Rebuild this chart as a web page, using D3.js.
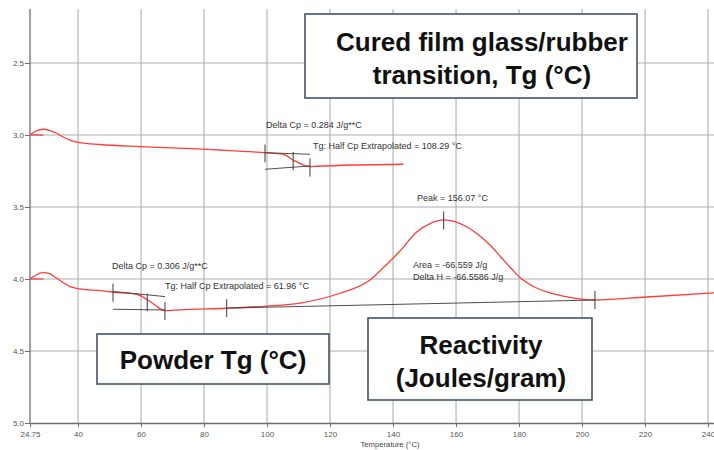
<!DOCTYPE html>
<html>
<head>
<meta charset="utf-8">
<script src="https://cdn.jsdelivr.net/npm/d3@7"></script>
<style>
  html, body { margin: 0; padding: 0; background: #fff; }
  svg { display: block; font-family: "Liberation Sans", Arial, sans-serif; }
</style>
</head>
<body>
<svg id="chart" width="714" height="450"></svg>
<script>
// Axis ticks
const xTicks = [24.75, 40, 60, 80, 100, 120, 140, 160, 180, 200, 220, 240];
const yTicks = [2.5, 3.0, 3.5, 4.0, 4.5, 5.0];

// Heat flow trace of the cured film (temperature °C, signal)
const filmTemp = [24.75, 26.65, 28.97, 31.1, 33.23, 35.23, 37.45, 40.62, 46.97, 59.67, 85.07, 99.35, 105.16, 108.34, 111.51, 113.64, 115.77, 143.26];
const filmSignal = [3.000, 2.972, 2.960, 2.969, 2.988, 3.014, 3.035, 3.053, 3.066, 3.081, 3.104, 3.123, 3.134, 3.174, 3.208, 3.220, 3.217, 3.203];

// Heat flow trace of the powder (glass transition plus cure exotherm)
const powderTemp = [24.75, 26.65, 28.97, 31.1, 33.23, 35.23, 37.45, 40.62, 46.97, 51.1, 58.62, 62.11, 64.43, 66.56, 68.24, 72.37, 87.19, 99.89, 110.46, 123.16, 132.7, 137.45, 142.21, 147.51, 151.73, 156.07, 159.66, 163.38, 167.6, 170.78, 173.95, 177.67, 180.3, 184.43, 188.87, 196.17, 204.1, 220.6, 241.9];
const powderSignal = [4.000, 3.972, 3.956, 3.965, 3.995, 4.024, 4.053, 4.069, 4.081, 4.092, 4.106, 4.146, 4.181, 4.212, 4.220, 4.214, 4.203, 4.188, 4.167, 4.099, 4.007, 3.910, 3.806, 3.674, 3.615, 3.590, 3.601, 3.637, 3.701, 3.764, 3.840, 3.931, 3.990, 4.050, 4.090, 4.128, 4.146, 4.125, 4.097];

// Short start-of-run markers on each trace
const startMarks = [[[24.75, 3.0], [29.0, 3.0]], [[24.75, 4.0], [29.0, 4.0]]];

// Glass transition construction lines (onset/end tangents)
const filmTangents = [[[99.35, 3.123], [113.64, 3.134]], [[99.35, 3.238], [113.64, 3.215]]];
const powderTangents = [[[51.1, 4.087], [67.6, 4.122]], [[51.1, 4.210], [67.6, 4.215]]];
// Integration baseline under the cure exotherm
const cureBaseline = [[87.2, 4.202], [204.1, 4.146]];

// Vertical limit markers: [temperature, signal]
const filmMarks = [[99.35, 3.128], [108.29, 3.181], [113.64, 3.226]];
const powderMarks = [[51.1, 4.095], [61.96, 4.163], [67.6, 4.222]];
const cureMarks = [[87.2, 4.202], [156.07, 3.594], [204.1, 4.146]];

// Result labels
const resultLabels = [
  "Delta Cp = 0.284 J/g**C",
  "Tg: Half Cp Extrapolated = 108.29 °C",
  "Peak = 156.07 °C",
  "Delta Cp = 0.306 J/g**C",
  "Tg: Half Cp Extrapolated = 61.96 °C",
  "Area = -66.559 J/g",
  "Delta H = -66.5586 J/g"
];
const calloutTitles = [
  ["Cured film glass/rubber", "transition, Tg (°C)"],
  ["Powder Tg (°C)"],
  ["Reactivity", "(Joules/gram)"]
];

const svg = d3.select("#chart");
const plotLeft = 30, plotRight = 714, plotTop = 9, plotBottom = 423;

const x = d3.scaleLinear().domain([24.75, 24.75 + (plotRight - plotLeft) / 3.15]).range([plotLeft, plotRight]);
const y = d3.scaleLinear().domain([2.125, 5.0]).range([plotTop, plotBottom]);

// Grid
const grid = svg.append("g");
grid.selectAll("line.h").data(yTicks.filter(d => d < 5)).join("line")
  .attr("x1", plotLeft).attr("x2", plotRight)
  .attr("y1", d => y(d)).attr("y2", d => y(d))
  .attr("stroke", "#c8c8c8").attr("stroke-width", 1.3);
grid.selectAll("line.v").data(xTicks.slice(1)).join("line")
  .attr("x1", d => x(d)).attr("x2", d => x(d))
  .attr("y1", plotTop).attr("y2", plotBottom)
  .attr("stroke", "#a8a8a8").attr("stroke-width", 1);

// Axes
const fmtX = d => d === 24.75 ? "24.75" : d3.format("d")(d);
const xAxis = svg.append("g").attr("transform", `translate(0,${plotBottom})`)
  .call(d3.axisBottom(x).tickValues(xTicks).tickFormat(fmtX).tickSize(4).tickSizeOuter(0));
const yAxis = svg.append("g").attr("transform", `translate(${plotLeft},0)`)
  .call(d3.axisLeft(y).tickValues(yTicks).tickFormat(d3.format(".1f")).tickSize(5).tickSizeOuter(0));
[xAxis, yAxis].forEach(a => {
  a.select(".domain").attr("stroke", "#6e6e6e").attr("stroke-width", 1.3);
  a.selectAll(".tick line").attr("stroke", "#6e6e6e");
  a.selectAll(".tick text").attr("fill", "#555").attr("font-size", 8)
    .attr("font-family", "Liberation Sans, Arial, sans-serif");
});
yAxis.select(".domain").attr("d", `M0,${plotTop}V${plotBottom}`);
xAxis.selectAll(".tick text").attr("dy", "0.9em");
yAxis.selectAll(".tick text").attr("x", -6);

svg.append("text").attr("x", 390).attr("y", 447)
  .attr("text-anchor", "middle").attr("font-size", 7.7).attr("fill", "#444")
  .text("Temperature (°C)");

// Traces
const line = d3.line().x(d => x(d[0])).y(d => y(d[1])).curve(d3.curveMonotoneX);
const seg = d3.line().x(d => x(d[0])).y(d => y(d[1]));
const red = "#ff3c3c";

svg.append("path").datum(filmTemp.map((t, i) => [t, filmSignal[i]]))
  .attr("d", line).attr("fill", "none").attr("stroke", red).attr("stroke-width", 1.3);
svg.append("path").datum(powderTemp.map((t, i) => [t, powderSignal[i]]))
  .attr("d", line).attr("fill", "none").attr("stroke", red).attr("stroke-width", 1.3);
svg.selectAll("path.start").data(startMarks).join("path")
  .attr("d", seg).attr("fill", "none").attr("stroke", red).attr("stroke-width", 1.3);

// Construction lines
const dark = "#3a3a3a";
svg.selectAll("path.tan").data([...filmTangents, ...powderTangents, cureBaseline]).join("path")
  .attr("d", seg).attr("fill", "none").attr("stroke", dark).attr("stroke-width", 0.9);
svg.selectAll("line.mark").data([...filmMarks, ...powderMarks, ...cureMarks]).join("line")
  .attr("x1", d => x(d[0])).attr("x2", d => x(d[0]))
  .attr("y1", d => y(d[1]) - 9).attr("y2", d => y(d[1]) + 9)
  .attr("stroke", dark).attr("stroke-width", 1);

// Result labels
const labelPos = [[266, 128], [313, 149], [417, 201], [112, 269], [165, 289], [413, 268], [413, 280]];
svg.selectAll("text.res").data(resultLabels).join("text")
  .attr("x", (d, i) => labelPos[i][0]).attr("y", (d, i) => labelPos[i][1])
  .attr("font-size", 9).attr("fill", "#333").text(d => d);

// Callout boxes
const boxes = [
  { x0: 305, y0: 14, x1: 637, y1: 98, cx: 482, cy: [42, 75] },
  { x0: 97, y0: 334, x1: 329, y1: 384, cx: 213, cy: [360] },
  { x0: 368, y0: 318, x1: 592, y1: 400, cx: 481, cy: [345, 378] }
];
boxes.forEach((b, i) => {
  svg.append("rect").attr("x", b.x0).attr("y", b.y0)
    .attr("width", b.x1 - b.x0).attr("height", b.y1 - b.y0)
    .attr("fill", "#fff").attr("stroke", "#44546a").attr("stroke-width", 1.6);
  calloutTitles[i].forEach((t, j) => {
    svg.append("text").attr("x", b.cx).attr("y", b.cy[j] + 9)
      .attr("text-anchor", "middle").attr("font-size", 26).attr("font-weight", "bold")
      .attr("fill", "#111").text(t);
  });
});
</script>
</body>
</html>
